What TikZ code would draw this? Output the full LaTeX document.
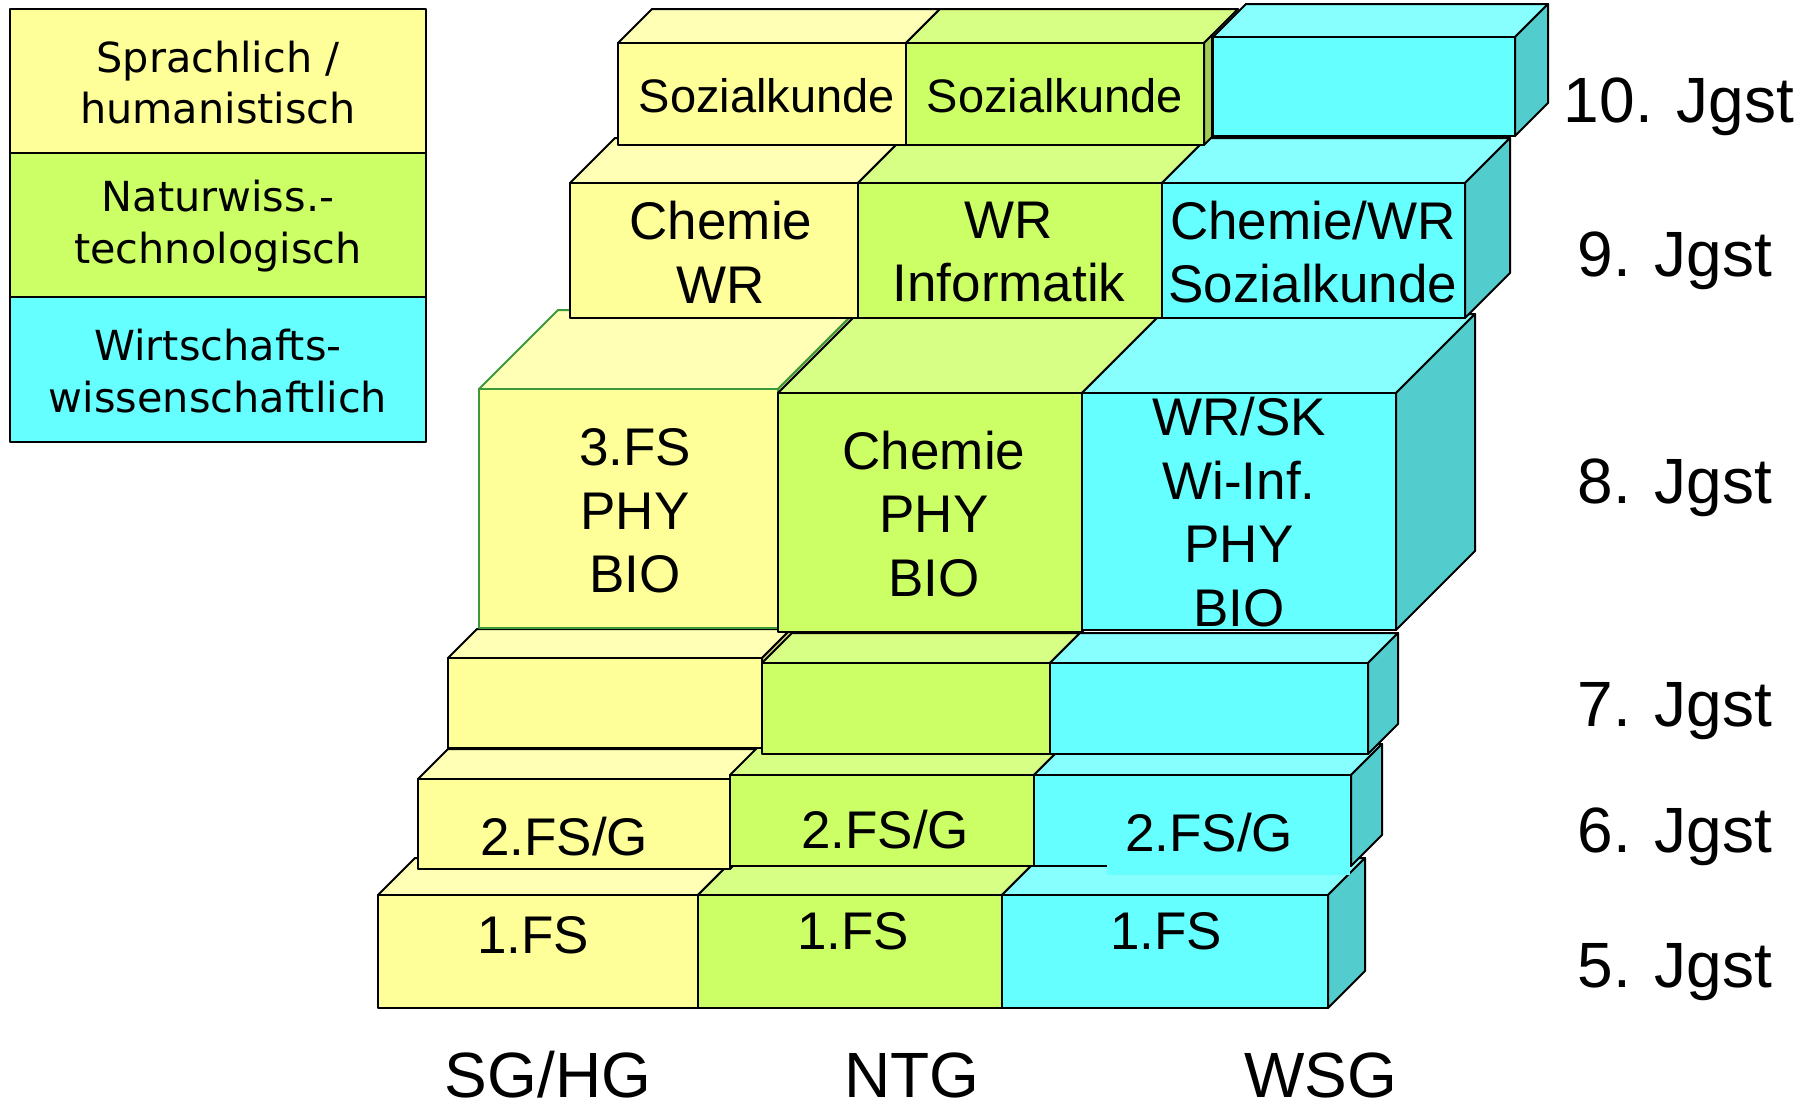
\documentclass[tikz,border=0pt]{standalone}
\usepackage{fontspec}
\setmainfont{Liberation Sans}
\newfontfamily\legfont{DejaVu Sans}
\definecolor{yf}{HTML}{FFFF99}
\definecolor{yt}{HTML}{FFFFB6}
\definecolor{ys}{HTML}{CCCC7A}
\definecolor{gf}{HTML}{CCFF66}
\definecolor{gt}{HTML}{D8FF85}
\definecolor{gs}{HTML}{A3CC52}
\definecolor{cf}{HTML}{66FFFF}
\definecolor{ct}{HTML}{88FFFF}
\definecolor{cs}{HTML}{52CCCC}
\definecolor{bgreen}{HTML}{3A9A3A}
\tikzset{
  boxline/.style={line width=1pt,line join=round},
  btxt/.style={font=\fontsize{26.5}{31.8}\selectfont,align=center,inner sep=0pt},
  stxt/.style={font=\fontsize{23.5}{28}\selectfont,align=center,inner sep=0pt},
  lbl/.style={font=\fontsize{32}{38}\selectfont,anchor=base,inner sep=0pt},
  legtxt/.style={font=\legfont\fontsize{20.7}{25.8}\selectfont,align=center,inner sep=0pt},
}
% #1 x left, #2 y top, #3 x right, #4 y bottom, #5 depth, #6 front, #7 top, #8 side, #9 line colour
\newcommand\cubo[9]{%
  \filldraw[fill=#7,draw=#9,boxline] (#1,#2) -- ++(#5,-#5) -- ({#3+#5},{#2-#5}) -- (#3,#2) -- cycle;
  \filldraw[fill=#8,draw=#9,boxline] (#3,#2) -- ++(#5,-#5) -- ++(0,{#4-#2}) -- (#3,#4) -- cycle;
  \filldraw[fill=#6,draw=#9,boxline] (#1,#2) rectangle (#3,#4);
}
\begin{document}
\begin{tikzpicture}[x=0.5pt,y=-0.5pt]
\useasboundingbox (0,0) rectangle (1806,1108);
% legend
\filldraw[fill=yf,draw=black,boxline] (9.5,9.3) rectangle (426,153.3);
\filldraw[fill=gf,draw=black,boxline] (9.5,153.3) rectangle (426,296.7);
\filldraw[fill=cf,draw=black,boxline] (9.5,296.7) rectangle (426,441.7);
\node[legtxt] (l1) at (218,82.5) {Sprachlich /\\humanistisch};
\node[legtxt] (l2) at (218,226) {Naturwiss.-\\technologisch};
\node[legtxt] (l3) at (218,371) {Wirtschafts-\\wissenschaftlich};
% row 5
\cubo{378}{895}{698}{1008}{37}{yf}{yt}{ys}{black}
\cubo{698}{895}{1002}{1008}{37}{gf}{gt}{gs}{black}
\cubo{1002}{895}{1328}{1008}{37}{cf}{ct}{cs}{black}
% row 6
\cubo{418}{779}{730}{869}{30}{yf}{yt}{ys}{black}
\cubo{730}{775}{1034}{866}{30}{gf}{gt}{gs}{black}
\cubo{1034}{775}{1351}{866}{31}{cf}{ct}{cs}{black}
\fill[cf] (1107,776) rectangle (1350,875);
% row 7
\cubo{448}{658}{762}{748}{29}{yf}{yt}{ys}{black}
\cubo{762}{663}{1050}{754}{30}{gf}{gt}{gs}{black}
\cubo{1050}{663}{1368}{754}{30}{cf}{ct}{cs}{black}
% row 8
\cubo{479}{389}{778}{628}{79}{yf}{yt}{ys}{bgreen}
\cubo{778}{393}{1082}{632}{80}{gf}{gt}{gs}{black}
\cubo{1082}{393}{1396}{630}{79}{cf}{ct}{cs}{black}
% row 9
\cubo{570}{183}{858}{318}{45}{yf}{yt}{ys}{black}
\cubo{858}{183}{1162}{318}{45}{gf}{gt}{gs}{black}
\cubo{1162}{183}{1465}{318}{45}{cf}{ct}{cs}{black}
% row 10
\cubo{618}{43}{906}{145}{34}{yf}{yt}{ys}{black}
\filldraw[fill=gt,draw=black,boxline] (906,43) -- ++(34,-34) -- (1238,9) -- (1204,43) -- cycle;
\filldraw[fill=gs,draw=black,boxline] (1204,43) -- (1212,35) -- (1212,137) -- (1204,145) -- cycle;
\filldraw[fill=gf,draw=black,boxline] (906,43) rectangle (1204,145);
\cubo{1213}{37}{1515}{136}{33}{cf}{ct}{cs}{black}
% texts in boxes
\node[stxt] (t10a) at (767,96) {Sozialkunde};
\node[stxt] (t10b) at (1055,96) {Sozialkunde};
\node[btxt] (t9a) at (721,252) {Chemie\\WR};
\node[btxt] (t9b) at (1009,252) {WR\\Informatik};
\node[btxt] (t9c) at (1313,252) {Chemie/WR\\Sozialkunde};
\node[btxt] (t8a) at (635,511) {3.FS\\PHY\\BIO};
\node[btxt] (t8b) at (934,514) {Chemie\\PHY\\BIO};
\node[btxt] (t8c) at (1239,512) {WR/SK\\Wi-Inf.\\PHY\\BIO};
\node[btxt] (t6a) at (564,837) {2.FS/G};
\node[btxt] (t6b) at (885,830) {2.FS/G};
\node[btxt] (t6c) at (1209,833) {2.FS/G};
\node[btxt] (t5a) at (533,935) {1.FS};
\node[btxt] (t5b) at (853,931) {1.FS};
\node[btxt] (t5c) at (1166,931) {1.FS};
% year labels
\node[lbl] (j10) at (1679,122) {10. Jgst};
\node[lbl] (j9) at (1675,276) {9. Jgst};
\node[lbl] (j8) at (1675,503) {8. Jgst};
\node[lbl] (j7) at (1675,726) {7. Jgst};
\node[lbl] (j6) at (1675,852) {6. Jgst};
\node[lbl] (j5) at (1675,987) {5. Jgst};
% column labels
\node[lbl] (c1) at (548,1097) {SG/HG};
\node[lbl] (c2) at (912,1097) {NTG};
\node[lbl] (c3) at (1321,1097) {WSG};
\end{tikzpicture}
\end{document}
